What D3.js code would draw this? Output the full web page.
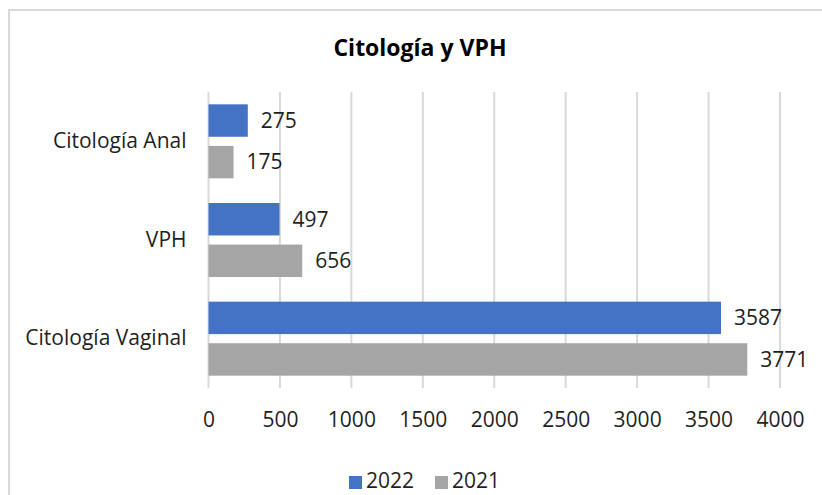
<!DOCTYPE html>
<html>
<head>
<meta charset="utf-8">
<script src="https://cdn.jsdelivr.net/npm/d3@7"></script>
<style>
  body { margin: 0; background: #fff; }
  text { font-family: "Open Sans", sans-serif; fill: #1f1f1f; }
</style>
</head>
<body>
<script>
// chart data
var categories = ["Citología Anal", "VPH", "Citología Vaginal"];
var seriesNames = ["2022", "2021"];
var values2022 = [275, 497, 3587];
var values2021 = [175, 656, 3771];
var xTicks = [0, 500, 1000, 1500, 2000, 2500, 3000, 3500, 4000];
var colors = ["#4472C4", "#A5A5A5"];

// svg size and plot area
var w = 822;
var h = 495;
var plotLeft = 208.5, plotRight = 780, plotTop = 92, plotBottom = 388;
var fontSize = "21px";

var svg = d3.select("body")
            .append("svg")
            .attr("width", w)
            .attr("height", h);

// chart border
svg.append("rect")
   .attr("x", 9)
   .attr("y", 10)
   .attr("width", 830)
   .attr("height", 500)
   .attr("fill", "none")
   .attr("stroke", "#d9d9d9")
   .attr("stroke-width", 2);

// title
svg.append("text")
   .attr("x", 420)
   .attr("y", 56)
   .attr("text-anchor", "middle")
   .style("font-size", "23px")
   .style("font-weight", "bold")
   .style("fill", "#000")
   .text("Citología y VPH");

// scales
var xScale = d3.scaleLinear()
               .domain([0, 4000])
               .range([plotLeft, plotRight]);
var yScale = d3.scaleBand()
               .domain(categories)
               .range([plotTop, plotBottom])
               .paddingInner(0.25)
               .paddingOuter(0.125);
var subScale = d3.scaleBand()
                 .domain(seriesNames)
                 .range([0, yScale.bandwidth()])
                 .paddingInner(0.22);

// vertical gridlines
svg.selectAll("line.grid")
   .data(xTicks)
   .enter()
   .append("line")
   .attr("class", "grid")
   .attr("x1", function(d) { return xScale(d); })
   .attr("x2", function(d) { return xScale(d); })
   .attr("y1", plotTop)
   .attr("y2", plotBottom)
   .attr("stroke", "#d9d9d9")
   .attr("stroke-width", 2);

// x axis labels
var xAxis = svg.append("g")
   .attr("transform", "translate(0," + (plotBottom + 32) + ")")
   .call(d3.axisBottom(xScale).tickValues(xTicks).tickFormat(d3.format("d"))
           .tickSize(0).tickPadding(0));
xAxis.select(".domain").remove();
xAxis.selectAll("text")
     .style("font-size", fontSize)
     .style("font-family", "Open Sans, sans-serif")
     .style("fill", "#1f1f1f")
     .attr("dy", "0.35em");

// y axis labels
var yAxis = svg.append("g")
   .attr("transform", "translate(" + (plotLeft - 22) + ",0)")
   .call(d3.axisLeft(yScale).tickSize(0).tickPadding(0));
yAxis.select(".domain").remove();
yAxis.selectAll("text")
     .style("font-size", fontSize)
     .style("font-family", "Open Sans, sans-serif")
     .style("fill", "#1f1f1f");

// build rows for bars
var rows = [];
categories.forEach(function(c, i) {
    rows.push({cat: c, series: "2022", value: values2022[i], color: colors[0]});
    rows.push({cat: c, series: "2021", value: values2021[i], color: colors[1]});
});

// bars
svg.selectAll("rect.bar")
   .data(rows)
   .enter()
   .append("rect")
   .attr("class", "bar")
   .attr("x", xScale(0))
   .attr("y", function(d) { return yScale(d.cat) + subScale(d.series); })
   .attr("width", function(d) { return xScale(d.value) - xScale(0); })
   .attr("height", subScale.bandwidth())
   .attr("fill", function(d) { return d.color; });

// value labels
svg.selectAll("text.val")
   .data(rows)
   .enter()
   .append("text")
   .attr("class", "val")
   .attr("x", function(d) { return xScale(d.value) + 13; })
   .attr("y", function(d) { return yScale(d.cat) + subScale(d.series) + subScale.bandwidth() / 2; })
   .attr("dy", "0.35em")
   .style("font-size", fontSize)
   .text(function(d) { return d.value; });

// legend
var legendX = [349, 435];
seriesNames.forEach(function(s, i) {
    svg.append("rect")
       .attr("x", legendX[i])
       .attr("y", 476)
       .attr("width", 13)
       .attr("height", 13)
       .attr("fill", colors[i]);
    svg.append("text")
       .attr("x", legendX[i] + 17)
       .attr("y", 481)
       .attr("dy", "0.35em")
       .style("font-size", fontSize)
       .text(s);
});
</script>
</body>
</html>
